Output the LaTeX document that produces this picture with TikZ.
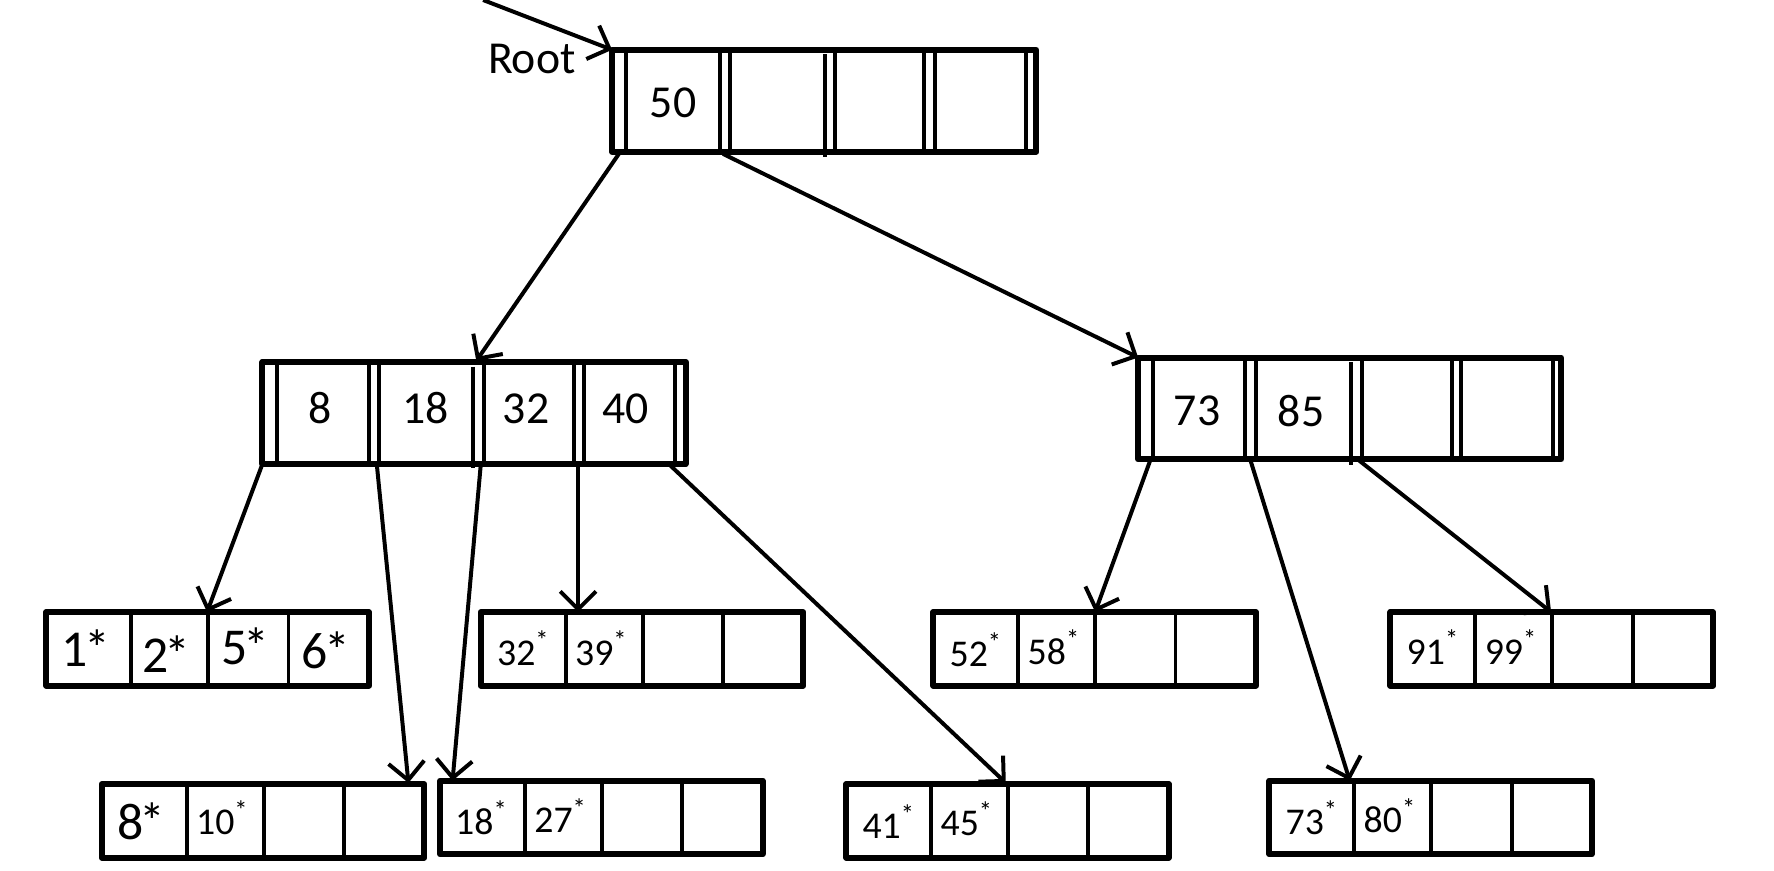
\documentclass[tikz,border=0pt]{standalone}
\usepackage{fontspec}
\setmainfont{Carlito}
\usetikzlibrary{arrows.meta}

\tikzset{
  box/.style={line width=1.5pt, line join=round},
  sep/.style={line width=1pt},
  ptr/.style={line width=1pt, -{Straight Barb[length=4.5pt,width=9pt]}},
  key/.style={inner sep=0pt, font=\fontsize{11.5}{13}\selectfont},
  big/.style={inner sep=0pt, font=\fontsize{13}{15}\selectfont},
  entry/.style={inner sep=0pt, font=\fontsize{9.5}{11}\selectfont},
}

\begin{document}
\begin{tikzpicture}[x=0.01cm, y=-0.01cm]
  \useasboundingbox (0,0) rectangle (1568,769);

  % root
  \draw[box] (541,44) rectangle (916,134);
  \foreach \x in {553,636,645,738,817,826,907}
    \draw[sep] (\x,44) -- (\x,134);
  \draw[sep] (729,48) -- (729,139);
  \node[key] (k50) at (595,91) {50};
  \node[key] (rootlbl) at (470,52) {Root};

  % inner nodes
  \draw[box] (232,320) rectangle (606,410);
  \foreach \x in {245,326,335,428,507,516,597}
    \draw[sep] (\x,320) -- (\x,410);
  \draw[sep] (418,324) -- (418,414);
  \node[key] (k8) at (283,361) {8};
  \node[key] (k18) at (376,361) {18};
  \node[key] (k32) at (465,361) {32};
  \node[key] (k40) at (553,361) {40};

  \draw[box] (1006,316) rectangle (1380,406);
  \foreach \x in {1019,1100,1110,1204,1283,1291,1373}
    \draw[sep] (\x,316) -- (\x,406);
  \draw[sep] (1194,320) -- (1194,411);
  \node[key] (k73) at (1058,363) {73};
  \node[key] (k85) at (1150,363) {85};

  % leaves
  \foreach \x/\y/\n in {41/541/la, 425/541/lb, 825/541/lc, 1229/541/ld,
                        90/693/le, 389/690/lf, 748/693/lg, 1122/690/lh}
  {
    \coordinate (\n) at (\x,\y);
    \draw[box] (\x,\y) rectangle ++(285,65);
    \foreach \d in {75,143,214}
      \draw[sep] (\x+\d,\y) -- ++(0,65);
  }

  \node[big] (e1) at ([shift={(35,32)}]la) {1\kern-1pt*};
  \node[big] (e2) at ([shift={(106,37)}]la) {2\kern-1pt*};
  \node[big] (e5) at ([shift={(176,30)}]la) {5\kern-1pt*};
  \node[big] (e6) at ([shift={(247,34)}]la) {6\kern-1pt*};

  \node[entry] (e32) at ([shift={(38,32)}]lb) {32\textsuperscript{*}};
  \node[entry] (e39) at ([shift={(107,32)}]lb) {39\textsuperscript{*}};
  \node[entry] (e52) at ([shift={(38,33)}]lc) {52\textsuperscript{*}};
  \node[entry] (e58) at ([shift={(107,31)}]lc) {58\textsuperscript{*}};
  \node[entry] (e91) at ([shift={(38,31)}]ld) {91\textsuperscript{*}};
  \node[entry] (e99) at ([shift={(107,31)}]ld) {99\textsuperscript{*}};

  \node[big] (e8) at ([shift={(35,33)}]le) {8\kern-1pt*};
  \node[entry] (e10) at ([shift={(107,30)}]le) {10\textsuperscript{*}};
  \node[entry] (e18) at ([shift={(37,33)}]lf) {18\textsuperscript{*}};
  \node[entry] (e27) at ([shift={(107,31)}]lf) {27\textsuperscript{*}};
  \node[entry] (e41) at ([shift={(38,33)}]lg) {41\textsuperscript{*}};
  \node[entry] (e45) at ([shift={(107,31)}]lg) {45\textsuperscript{*}};
  \node[entry] (e73) at ([shift={(38,33)}]lh) {73\textsuperscript{*}};
  \node[entry] (e80) at ([shift={(107,31)}]lh) {80\textsuperscript{*}};

  % pointers
  \coordinate (start) at (427,0);
  \coordinate (rin) at (541,44);
  \coordinate (r0) at (547,136);
  \coordinate (r1) at (639,136);
  \coordinate (ain) at (421,319);
  \coordinate (bin) at (1006,316);
  \coordinate (a0) at (232,410);
  \coordinate (a1) at (333,410);
  \coordinate (a2) at (425,410);
  \coordinate (a3) at (511,410);
  \coordinate (a4) at (591,410);
  \coordinate (b0) at (1017,406);
  \coordinate (b1) at (1105,406);
  \coordinate (b2) at (1200,406);

  \draw[ptr] (start) -- (rin);
  \draw[ptr] (r0) -- (ain);
  \draw[ptr] (r1) -- (bin);

  \draw[ptr] (a0) -- ([shift={(142,0)}]la);
  \draw[ptr] (a1) -- ([shift={(271,-1)}]le);
  \draw[ptr] (a2) -- ([shift={(11,0)}]lf);
  \draw[ptr] (a3) -- ([shift={(86,0)}]lb);
  \draw[ptr] (a4) -- ([shift={(141,-1)}]lg);

  \draw[ptr] (b0) -- ([shift={(143,0)}]lc);
  \draw[ptr] (b1) -- ([shift={(71,0)}]lh);
  \draw[ptr] (b2) -- ([shift={(142,0)}]ld);
\end{tikzpicture}
\end{document}
